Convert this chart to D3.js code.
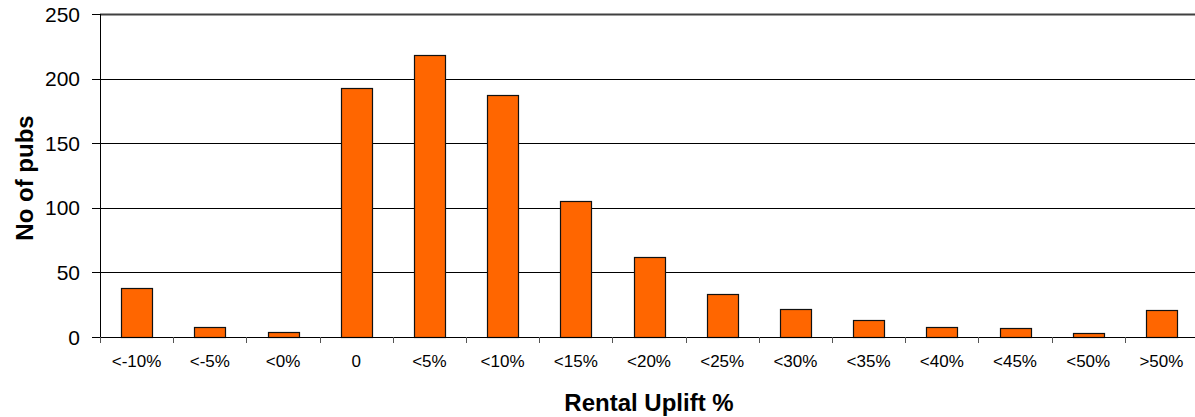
<!DOCTYPE html>
<html>
<head>
<meta charset="utf-8">
<script src="https://cdn.jsdelivr.net/npm/d3@7"></script>
<style>
  html, body { margin: 0; padding: 0; background: #fff; }
  svg { display: block; font-family: "Liberation Sans", Arial, sans-serif; }
</style>
</head>
<body>
<svg id="chart" width="1195" height="417"></svg>
<script>
// Rental uplift bands and the number of pubs in each
const categories = ["<-10%", "<-5%", "<0%", "0", "<5%", "<10%", "<15%", "<20%", "<25%", "<30%", "<35%", "<40%", "<45%", "<50%", ">50%"];
const pubCounts = [38, 8, 4, 193, 218, 187, 105, 62, 33, 22, 13, 8, 7, 3, 21];
const yTicks = [0, 50, 100, 150, 200, 250];

const svg = d3.select("#chart");
const plotLeft = 100, plotRight = 1198, plotTop = 14, plotBottom = 337;

const x = d3.scaleBand().domain(categories).range([plotLeft, plotRight]).paddingInner(0.58).paddingOuter(0.29);
const xEdges = d3.scaleBand().domain(categories).range([plotLeft, plotRight]).padding(0);
const y = d3.scaleLinear().domain([0, 250]).range([plotBottom, plotTop]);

// horizontal gridlines
svg.append("g")
  .selectAll("line")
  .data(yTicks.filter(d => d > 0))
  .join("line")
  .attr("x1", plotLeft).attr("x2", 1195)
  .attr("y1", d => Math.round(y(d)) + 0.5)
  .attr("y2", d => Math.round(y(d)) + 0.5)
  .attr("stroke", d => d === 250 ? "#404040" : "#000")
  .attr("stroke-width", d => d === 250 ? 2 : 1);

// bars
svg.append("g")
  .selectAll("rect")
  .data(categories.map((c, i) => ({ c, v: pubCounts[i] })))
  .join("rect")
  .attr("x", d => Math.round(x(d.c)) + 0.5)
  .attr("y", d => Math.round(y(d.v)) + 0.5)
  .attr("width", Math.round(x.bandwidth()))
  .attr("height", d => Math.round(y(0)) - Math.round(y(d.v)))
  .attr("fill", "#FF6600")
  .attr("stroke", "#111")
  .attr("stroke-width", 1.2);

// y axis
const yAxis = svg.append("g");
yAxis.append("line")
  .attr("x1", plotLeft + 0.5).attr("x2", plotLeft + 0.5)
  .attr("y1", plotTop).attr("y2", plotBottom + 1)
  .attr("stroke", "#000");
yAxis.selectAll("line.tick")
  .data(yTicks)
  .join("line")
  .attr("class", "tick")
  .attr("x1", plotLeft - 8).attr("x2", plotLeft)
  .attr("y1", d => Math.round(y(d)) + 0.5)
  .attr("y2", d => Math.round(y(d)) + 0.5)
  .attr("stroke", "#000");
yAxis.selectAll("text")
  .data(yTicks)
  .join("text")
  .attr("x", 80)
  .attr("y", d => y(d) + 7.5)
  .attr("text-anchor", "end")
  .attr("font-size", 21)
  .attr("fill", "#000")
  .text(d => d);

// x axis
const xAxis = svg.append("g");
xAxis.append("line")
  .attr("x1", plotLeft).attr("x2", 1195)
  .attr("y1", plotBottom + 0.5).attr("y2", plotBottom + 0.5)
  .attr("stroke", "#000");
xAxis.selectAll("line.tick")
  .data(categories.concat(["end"]))
  .join("line")
  .attr("class", "tick")
  .attr("x1", (d, i) => Math.round(plotLeft + i * xEdges.step()) + 0.5)
  .attr("x2", (d, i) => Math.round(plotLeft + i * xEdges.step()) + 0.5)
  .attr("y1", plotBottom).attr("y2", plotBottom + 6)
  .attr("stroke", "#555");
xAxis.selectAll("text")
  .data(categories)
  .join("text")
  .attr("x", d => xEdges(d) + xEdges.bandwidth() / 2)
  .attr("y", 367)
  .attr("text-anchor", "middle")
  .attr("font-size", 17)
  .attr("fill", "#000")
  .text(d => d);

// axis titles
svg.append("text")
  .attr("x", 649).attr("y", 411)
  .attr("text-anchor", "middle")
  .attr("font-size", 24)
  .attr("font-weight", "bold")
  .text("Rental Uplift %");

svg.append("text")
  .attr("transform", "translate(33,178) rotate(-90)")
  .attr("text-anchor", "middle")
  .attr("font-size", 24)
  .attr("font-weight", "bold")
  .text("No of pubs");
</script>
</body>
</html>
